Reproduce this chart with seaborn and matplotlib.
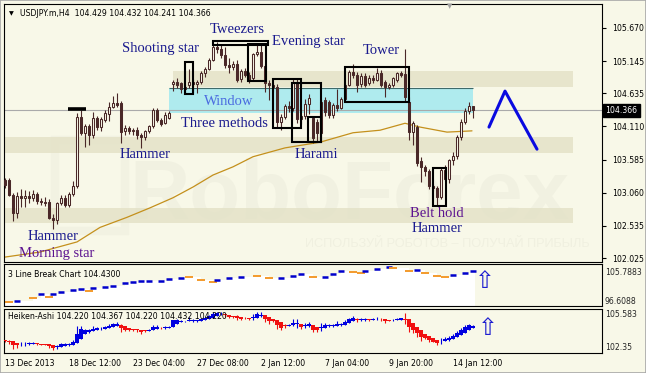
import numpy as np
import pandas as pd
import matplotlib
matplotlib.use("Agg")
import matplotlib.pyplot as plt
from matplotlib.patches import Rectangle
import matplotlib.transforms as mtransforms
import seaborn as sns

# ---------------- data (USDJPY.m H4) ----------------
opens = [103.26, 103.26, 103.02, 102.74, 103.00, 102.97, 103.01, 102.98, 103.04, 102.93,
         102.92, 102.92, 102.66, 102.63, 102.89, 102.98, 102.87, 103.04, 103.16, 104.26,
         104.01, 104.12, 103.97, 104.24, 104.10, 104.21, 104.30, 104.42, 104.48, 104.48,
         104.03, 104.08, 104.03, 104.06, 103.98, 103.94, 104.03, 104.11, 104.37, 104.21,
         104.17, 104.24, 104.78, 104.82, 104.80, 104.70, 104.77, 104.82, 104.79, 104.82,
         104.96, 105.02, 105.16, 105.37, 105.33, 105.24, 105.08, 105.05, 105.10, 104.86,
         104.99, 104.93, 104.87, 105.25, 105.29, 105.06, 104.80, 104.76, 104.74, 104.18,
         104.26, 104.43, 104.40, 104.82, 104.22, 104.27, 104.47, 104.24, 104.18, 104.01,
         104.53, 104.50, 104.29, 104.45, 104.40, 104.54, 104.77, 104.97, 104.93, 104.78,
         104.91, 104.80, 104.88, 104.85, 104.95, 104.82, 104.74, 104.77, 104.85, 104.95,
         104.94, 104.50, 104.02, 104.10, 103.56, 103.46, 103.40, 103.17, 103.14, 102.99,
         103.42, 103.28, 103.58, 103.64, 103.94, 104.18, 104.35, 104.429]
highs = [103.29, 103.29, 103.05, 103.07, 103.12, 103.11, 103.08, 103.10, 103.07, 102.98,
         102.99, 102.96, 102.73, 102.92, 103.02, 103.02, 103.07, 103.24, 104.32, 104.37,
         104.15, 104.15, 104.34, 104.27, 104.26, 104.37, 104.50, 104.59, 104.64, 104.52,
         104.13, 104.11, 104.09, 104.10, 104.00, 104.06, 104.14, 104.40, 104.40, 104.24,
         104.34, 104.35, 104.85, 104.87, 104.82, 104.77, 105.02, 104.86, 104.85, 104.99,
         105.05, 105.20, 105.43, 105.45, 105.40, 105.37, 105.19, 105.15, 105.16, 105.02,
         105.04, 104.97, 105.28, 105.40, 105.43, 105.10, 104.85, 104.80, 104.78, 104.30,
         104.47, 104.51, 104.86, 104.87, 104.30, 104.55, 104.62, 104.27, 104.22, 104.55,
         104.57, 104.53, 104.48, 104.70, 104.57, 104.80, 105.00, 105.10, 104.97, 104.95,
         104.96, 104.92, 104.93, 105.03, 105.00, 104.85, 104.80, 104.90, 104.98, 104.99,
         105.34, 104.58, 104.20, 104.14, 103.62, 103.50, 103.44, 103.20, 103.17, 103.45,
         103.50, 103.60, 103.70, 103.98, 104.22, 104.40, 104.50, 104.432]
lows = [103.13, 103.00, 102.61, 102.66, 102.83, 102.84, 102.90, 102.93, 102.88, 102.87,
        102.85, 102.64, 102.49, 102.56, 102.86, 102.84, 102.84, 103.00, 103.13, 103.97,
        103.78, 103.82, 103.93, 104.05, 104.03, 104.18, 104.19, 104.40, 104.42, 103.85,
        103.98, 103.99, 103.98, 103.91, 103.77, 103.90, 104.00, 104.09, 104.18, 104.12,
        104.15, 104.22, 104.67, 104.72, 104.64, 104.62, 104.72, 104.64, 104.64, 104.78,
        104.90, 105.00, 105.14, 105.28, 105.20, 105.04, 104.95, 105.00, 104.82, 104.82,
        104.89, 104.80, 104.84, 105.22, 105.03, 104.66, 104.53, 104.65, 104.10, 104.05,
        104.22, 104.34, 104.36, 104.16, 104.15, 104.22, 104.30, 103.85, 103.88, 103.98,
        104.28, 104.25, 104.24, 104.35, 104.38, 104.50, 104.75, 104.88, 104.66, 104.74,
        104.73, 104.76, 104.80, 104.83, 104.74, 104.57, 104.70, 104.74, 104.82, 104.90,
        104.52, 103.90, 103.82, 103.48, 103.23, 103.32, 103.12, 103.08, 102.85, 102.96,
        103.24, 103.22, 103.50, 103.60, 103.90, 104.15, 104.30, 104.241]
closes = [103.18, 103.02, 102.74, 103.00, 102.97, 103.01, 102.97, 103.04, 102.93, 102.91,
          102.90, 102.66, 102.63, 102.89, 102.98, 102.87, 103.04, 103.16, 104.26, 104.01,
          104.12, 103.97, 104.24, 104.10, 104.23, 104.32, 104.42, 104.48, 104.45, 104.02,
          104.09, 104.03, 104.06, 103.98, 103.94, 104.03, 104.11, 104.37, 104.21, 104.15,
          104.29, 104.32, 104.82, 104.77, 104.70, 104.73, 104.82, 104.79, 104.82, 104.96,
          105.02, 105.16, 105.37, 105.33, 105.24, 105.08, 105.05, 105.10, 104.85, 104.99,
          104.93, 104.85, 105.25, 105.29, 105.06, 104.80, 104.76, 104.74, 104.18, 104.26,
          104.43, 104.40, 104.82, 104.22, 104.27, 104.47, 104.56, 103.93, 104.01, 104.50,
          104.34, 104.29, 104.45, 104.40, 104.54, 104.77, 104.97, 104.93, 104.77, 104.91,
          104.77, 104.88, 104.85, 104.95, 104.77, 104.74, 104.77, 104.87, 104.95, 104.93,
          104.57, 104.02, 104.16, 103.53, 103.46, 103.40, 103.17, 103.14, 102.99, 103.42,
          103.28, 103.58, 103.64, 103.94, 104.18, 104.35, 104.43, 104.366]

# moving average read at sample bars
ma_idx = [0, 8.75, 18, 23.75, 30.5, 36.25, 42, 47, 52, 57, 62, 70, 78.75, 87, 93.75,
          100, 103.75, 110.5, 116.75]
ma_val = [102.04, 102.12, 102.28, 102.51, 102.67, 102.82, 102.98, 103.15, 103.34, 103.47,
          103.63, 103.77, 103.86, 104.01, 104.05, 104.16, 104.10, 104.02, 104.04]

# forecast zigzag
fc_idx = [121, 125, 133]
fc_val = [104.10, 104.67, 103.75]

# 3 line break blocks
lb_idx = [1, 3, 7, 9, 11, 12, 14, 17, 19, 21, 22, 25, 27, 30, 32, 34, 36, 39, 41, 44,
          46, 49, 52, 53, 56, 59, 63, 66, 69, 72, 74, 77, 80, 82, 84, 87, 89, 90, 93, 96,
          97, 101, 103, 105, 108, 110, 112, 115, 117]
lb_val = [97.3, 97.5, 98.2, 99.2, 98.5, 99.2, 99.6, 100.05, 100.3, 99.8,
          100.5, 100.7, 101.0, 101.66, 101.9, 102.1, 102.1, 102.1, 102.6, 102.8,
          103.0, 102.35, 101.9, 102.35, 102.8, 103.0, 103.26, 102.8, 102.8, 103.26,
          103.7, 103.0, 103.0, 103.7, 104.4, 104.2, 103.95, 104.4, 104.87, 105.33,
          105.1, 104.4, 104.64, 103.95, 103.26, 103.0, 103.5, 103.95, 104.43]
lb_dir = list("obobobbbbo" "bbbbbbbbbb" "ooobbboobb" "bobbboobbb" "oobooobbb")

price_ticks = [105.670, 105.145, 104.635, 104.110, 103.585, 103.060, 102.535, 102.025]
time_idx = [0, 16, 32, 48, 64, 80, 96, 112]
time_labels = ["13 Dec 2013", "18 Dec 12:00", "23 Dec 04:00", "27 Dec 08:00",
               "2 Jan 12:00", "7 Jan 04:00", "9 Jan 20:00", "14 Jan 12:00"]

# pattern boxes (bar index range, price range)
box_i0 = [45, 52, 60.75, 67, 71.75, 75.75, 85, 107]
box_i1 = [47, 65.75, 65.25, 74, 79, 79, 101, 110.25]
box_lo = [104.62, 105.40, 104.83, 104.08, 103.86, 103.86, 104.50, 102.85]
box_hi = [105.13, 105.46, 105.42, 104.86, 104.80, 104.26, 105.05, 103.45]

# pattern labels
lbl_text = ["Shooting star", "Tweezers", "Evening star", "Tower", "Three methods",
            "Hammer", "Harami", "Hammer", "Morning star", "Belt hold", "Hammer"]
lbl_i = [38.9, 58, 75.9, 94, 54.9, 35, 77.75, 12, 12.9, 108, 108.1]
lbl_p = [105.34, 105.64, 105.45, 105.31, 104.15, 103.67, 103.67, 102.37, 102.10, 102.73, 102.49]
lbl_purple = [False, False, False, False, False, False, False, False, True, True, False]

# support / resistance zones
band_i0 = [42, -0.25, -0.25]
band_i1 = [142, 142, 142]
band_lo = [104.74, 103.69, 102.58]
band_hi = [104.99, 103.94, 102.82]
window_zone = (41, 117, 104.33, 104.72)

# ---------------- styling ----------------
sns.set_style("white")
plt.rcParams["font.family"] = ["DejaVu Sans"]

BG = "#F8F8E8"
CANDLE = "#4A2828"
BLUE_TXT = "#1A1A8E"
PURPLE_TXT = "#5B1190"
W, H = 646, 373

fig = plt.figure(figsize=(W / 100, H / 100), dpi=100, facecolor=BG)


def px_axes(left, top, right, bottom):
    a = fig.add_axes([left / W, 1 - bottom / H, (right - left) / W, (bottom - top) / H])
    a.set_facecolor(BG)
    for s in a.spines.values():
        s.set_color("black")
        s.set_linewidth(0.8)
    return a


ax = px_axes(4, 4, 602, 262)
ax_lb = px_axes(4, 264, 602, 306)
ax_ha = px_axes(4, 309, 602, 353)
XL = (-0.25, 149.25)
for a in (ax, ax_lb, ax_ha):
    a.set_xlim(*XL)

# ---- main panel ----
ax.set_ylim(101.962, 106.050)

# watermark (very faint)
ax.text(31, 102.99, "RoboForex", fontsize=60, fontweight="bold", family="Liberation Sans",
        color="#A0A090", alpha=0.075, ha="left", va="center", zorder=0.5)
ax.add_patch(Rectangle((12.5, 102.45), 17.5, 1.45, fill=False, ec="#A0A090", lw=6,
                       alpha=0.06, zorder=0.5))
ax.text(75, 102.25, "ИСПОЛЬЗУЙ РОБОТОВ – ПОЛУЧАЙ ПРИБЫЛЬ", fontsize=9.2,
        family="Liberation Sans", color="#A0A090", alpha=0.09, ha="left", va="center",
        zorder=0.5)

for i0, i1, lo, hi in zip(band_i0, band_i1, band_lo, band_hi):
    ax.add_patch(Rectangle((i0, lo), i1 - i0, hi - lo, color="#E4E2C8", alpha=0.85,
                           lw=0, zorder=1))
wi0, wi1, wlo, whi = window_zone
ax.add_patch(Rectangle((wi0, wlo), wi1 - wi0, whi - wlo, color="#AFEBEE", lw=0, zorder=1.2))
ax.hlines(whi, wi0, wi1, color="#3E6A6A", lw=0.8, zorder=1.3)

last_close = closes[-1]
ax.axhline(last_close, color="#AAAAAA", lw=0.8, zorder=1.5)

sns.lineplot(x=ma_idx, y=ma_val, ax=ax, color="#C4901C", lw=0.9, zorder=2.5)

df = pd.DataFrame({"open": opens, "high": highs, "low": lows, "close": closes})
df["i"] = np.arange(len(df))
up = (df["close"] >= df["open"]).to_numpy()
ax.vlines(df["i"], df["low"], df["high"], color=CANDLE, lw=0.8, zorder=3)
body_lo = np.minimum(df["open"], df["close"])
body_h = np.maximum((df["close"] - df["open"]).abs(), 0.012)
ax.bar(df["i"], body_h, bottom=body_lo, width=0.55,
       color=np.where(up, BG, CANDLE), edgecolor=CANDLE, linewidth=0.75, zorder=4)

ax.hlines(104.385, 15.75, 20.25, color="black", lw=2.6, zorder=5)

for i0, i1, lo, hi in zip(box_i0, box_i1, box_lo, box_hi):
    ax.add_patch(Rectangle((i0, lo), i1 - i0, hi - lo, fill=False, ec="black", lw=1.5,
                           zorder=6))

sns.lineplot(x=fc_idx, y=fc_val, ax=ax, color="#0A0AE0", lw=2.2, zorder=6, sort=False)

for t, xi, yp, pur in zip(lbl_text, lbl_i, lbl_p, lbl_purple):
    ax.text(xi, yp, t, family="Liberation Serif", fontsize=10.5,
            color=PURPLE_TXT if pur else BLUE_TXT, ha="center", va="center", zorder=7)
ax.text(56, 104.51, "Window", family="Liberation Serif", fontsize=10.5, color="#4A6BE0",
        ha="center", va="center", zorder=7)

ax.yaxis.tick_right()
ax.set_yticks(price_ticks)
ax.set_yticklabels([f"{t:.3f}" for t in price_ticks])
ax.tick_params(axis="y", length=3, width=0.8, pad=4, labelsize=5.6, colors="black")
ax.set_xticks([])
ax.set_xlabel("")
ax.set_ylabel("")

trans = mtransforms.blended_transform_factory(ax.transAxes, ax.transData)
ax.text(1.006, last_close, f"{last_close:.3f}", transform=trans, fontsize=5.6,
        color="white", ha="left", va="center",
        bbox=dict(boxstyle="square,pad=0.28", fc="black", ec="black"), zorder=8,
        clip_on=False)

ax.text(0.0268, 0.965, "USDJPY.m,H4  104.429 104.432 104.241 104.366", transform=ax.transAxes,
        fontsize=5.6, color="black", ha="left", va="center")
ax.text(0.012, 0.962, "▼", transform=ax.transAxes, fontsize=4.5, color="black",
        ha="center", va="center")
fig.text(450 / W, 1 - 6.5 / H, "▼", fontsize=5, color="#A0A0A0", ha="center", va="center")

# ---- 3 line break panel ----
lb_lo, lb_hi = 96.38, 106.02
ax_lb.set_ylim(lb_lo, lb_hi)
x_fill = np.r_[0, lb_idx[1:], 117.6]
y_fill = np.r_[lb_val, lb_val[-1]]
ax_lb.fill_between(x_fill, y_fill, lb_lo, step="post", color="white", lw=0, zorder=1)
for xi, v, d in zip(lb_idx, lb_val, lb_dir):
    if d == "b":
        ax_lb.hlines(v, xi - 0.7, xi + 0.7, color="#0000CC", lw=1.8, zorder=2)
    else:
        ax_lb.hlines(v, xi - 0.9, xi + 0.9, color="#F39A2B", lw=1.4, zorder=2)
ax_lb.set_xticks([])
ax_lb.set_yticks([])
ax_lb.text(0.0067, 0.76, "3 Line Break Chart 104.4300", transform=ax_lb.transAxes,
           fontsize=5.6, ha="left", va="center", color="black")
ax_lb.text(1.005, 0.786, "105.7883", transform=ax_lb.transAxes, fontsize=5.6,
           ha="left", va="center", clip_on=False)
ax_lb.text(1.005, 0.119, "96.6088", transform=ax_lb.transAxes, fontsize=5.6,
           ha="left", va="center", clip_on=False)

# ---- Heiken-Ashi panel ----
o = np.array(opens); h = np.array(highs); l = np.array(lows); c = np.array(closes)
ha_close = (o + h + l + c) / 4
ha_open = np.empty_like(ha_close)
ha_open[0] = (o[0] + c[0]) / 2
for k in range(1, len(o)):
    ha_open[k] = (ha_open[k - 1] + ha_close[k - 1]) / 2
ha_high = np.maximum.reduce([h, ha_open, ha_close])
ha_low = np.minimum.reduce([l, ha_open, ha_close])
ha_col = np.where(ha_close >= ha_open, "#0000E0", "#F01010")
ax_ha.set_ylim(102.27, 105.66)
ax_ha.vlines(df["i"], ha_low, ha_high, colors=ha_col, lw=0.8, zorder=2)
ax_ha.bar(df["i"], np.maximum(np.abs(ha_close - ha_open), 0.04),
          bottom=np.minimum(ha_open, ha_close), width=0.85, color=ha_col, lw=0, zorder=3)
ax_ha.set_yticks([])
ax_ha.set_xticks(time_idx)
ax_ha.set_xticklabels(time_labels)
for lab in ax_ha.get_xticklabels():
    lab.set_ha("left")
ax_ha.tick_params(axis="x", length=3, width=0.8, pad=1.5, labelsize=5.6, colors="black")
ax_ha.text(0.0067, 0.82, "Heiken-Ashi 104.220 104.367 104.220 104.432 104.220",
           transform=ax_ha.transAxes, fontsize=5.6, ha="left", va="center", color="black")
ax_ha.text(1.005, 0.864, "105.583", transform=ax_ha.transAxes, fontsize=5.6,
           ha="left", va="center", clip_on=False)
ax_ha.text(1.005, 0.136, "102.35", transform=ax_ha.transAxes, fontsize=5.6,
           ha="left", va="center", clip_on=False)

# signal arrows
fig.text(485 / W, 1 - 281 / H, "⇧", fontsize=17, color="#1E1ED0", ha="center", va="center")
fig.text(488 / W, 1 - 328 / H, "⇧", fontsize=17, color="#1E1ED0", ha="center", va="center")

fig.patches.append(Rectangle((0, 0), 1, 1, transform=fig.transFigure, fill=False,
                             ec="#A8A8A8", lw=1.2))

fig.savefig("out.png", dpi=100, facecolor=BG)
